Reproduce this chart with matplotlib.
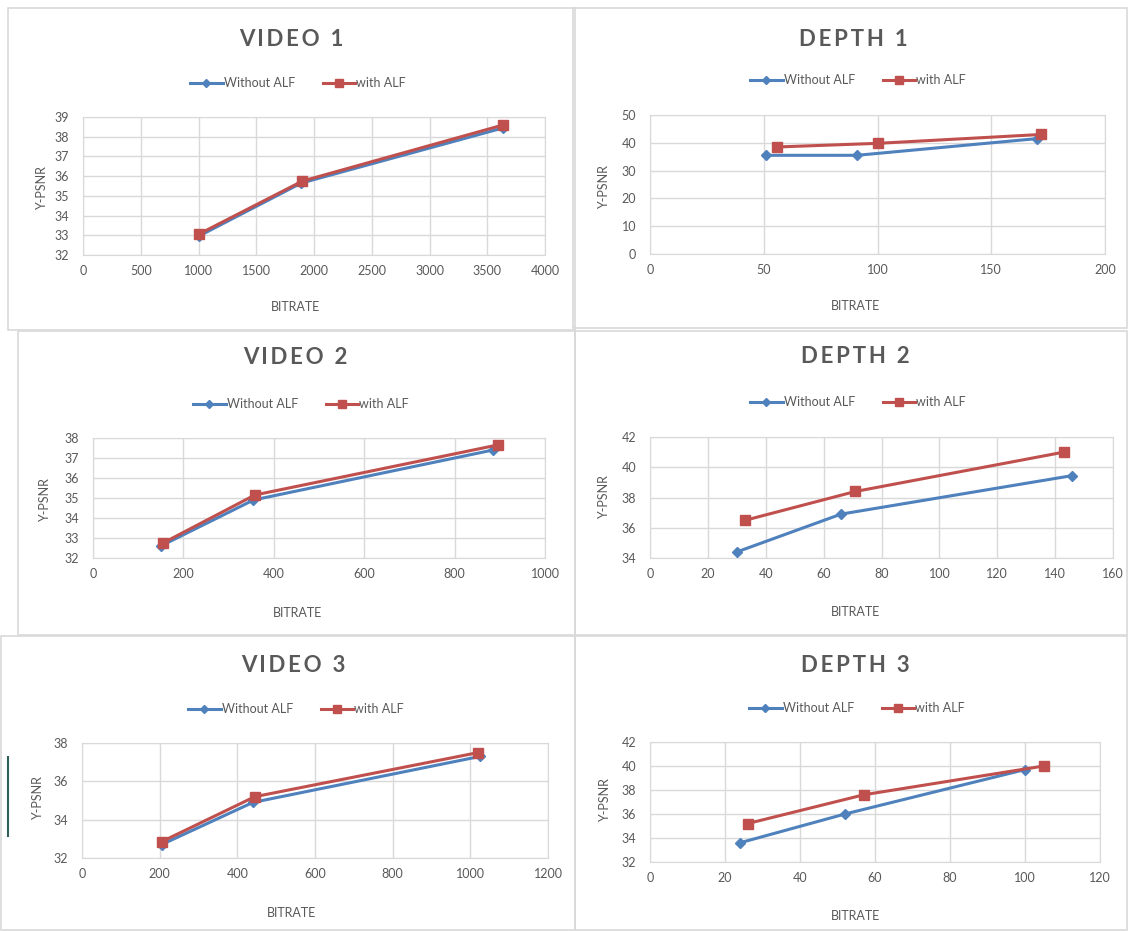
import matplotlib
matplotlib.use("Agg")
from matplotlib import pyplot as plt
from matplotlib.patches import Rectangle
from matplotlib.lines import Line2D

plt.rcParams["font.family"] = ["Lato", "DejaVu Sans"]

W, H = 1128, 931

# ---- data ----
titles = ["VIDEO 1", "DEPTH 1", "VIDEO 2", "DEPTH 2", "VIDEO 3", "DEPTH 3"]
series_names = ["Without ALF", "with ALF"]

v1_x_without = [1000, 1890, 3640]
v1_y_without = [32.95, 35.65, 38.45]
v1_x_with = [1000, 1900, 3640]
v1_y_with = [33.05, 35.75, 38.6]

d1_x_without = [51, 91, 170]
d1_y_without = [35.5, 35.5, 41.5]
d1_x_with = [56, 100, 172]
d1_y_with = [38.5, 39.8, 43.0]

v2_x_without = [150, 355, 885]
v2_y_without = [32.6, 34.9, 37.4]
v2_x_with = [155, 358, 895]
v2_y_with = [32.75, 35.15, 37.65]

d2_x_without = [30, 66, 146]
d2_y_without = [34.4, 36.9, 39.45]
d2_x_with = [33, 71, 143]
d2_y_with = [36.5, 38.4, 41.0]

v3_x_without = [205, 440, 1025]
v3_y_without = [32.7, 34.9, 37.3]
v3_x_with = [205, 445, 1020]
v3_y_with = [32.85, 35.2, 37.5]

d3_x_without = [24, 52, 100]
d3_y_without = [33.6, 36.0, 39.7]
d3_x_with = [26, 57, 105]
d3_y_with = [35.2, 37.6, 40.0]

x_ticks = [range(0, 4001, 500), range(0, 201, 50), range(0, 1001, 200),
           range(0, 161, 20), range(0, 1201, 200), range(0, 121, 20)]
y_ticks = [range(32, 40, 1), range(0, 51, 10), range(32, 39, 1),
           range(34, 43, 2), range(32, 39, 2), range(32, 43, 2)]

data = [
    (v1_x_without, v1_y_without, v1_x_with, v1_y_with),
    (d1_x_without, d1_y_without, d1_x_with, d1_y_with),
    (v2_x_without, v2_y_without, v2_x_with, v2_y_with),
    (d2_x_without, d2_y_without, d2_x_with, d2_y_with),
    (v3_x_without, v3_y_without, v3_x_with, v3_y_with),
    (d3_x_without, d3_y_without, d3_x_with, d3_y_with),
]

# ---- layout in reference pixels ----
# plot area: left, right, top, bottom
plot_boxes = [(83, 545, 117, 255), (650, 1105, 115, 254),
              (93, 545, 438, 558), (650, 1113, 437, 558),
              (82, 548, 743, 858), (650, 1100, 742, 862)]
panel_boxes = [(8, 575, 8, 330), (573, 1127, 8, 328),
               (18, 575, 331, 635), (575, 1127, 331, 635),
               (1, 575, 636, 930), (575, 1127, 636, 930)]
title_pos = [(291, 40), (853, 40), (295, 358), (855, 357), (293, 665), (855, 665)]
legend_pos = [(298, 83), (858, 80), (301, 404), (858, 402), (296, 709), (857, 708)]
ylabel_pos = [(42, 188), (604, 187), (45, 500), (604, 497), (38, 798), (605, 800)]
xlabel_pos = [(295, 307), (855, 306), (297, 613), (855, 612), (291, 913), (855, 916)]

BLUE = "#4F81BD"
RED = "#C0504D"
GRID = "#D9D9D9"
TXT = "#595959"


def fx(px):
    return px / W


def fy(py):
    return 1 - py / H


fig = plt.figure(figsize=(W / 100, H / 100), dpi=100)

for k in range(6):
    l, r, t, b = panel_boxes[k]
    fig.add_artist(Rectangle((fx(l), fy(b)), fx(r - l), (b - t) / H, transform=fig.transFigure,
                             fill=False, edgecolor=GRID, linewidth=1.2))

    l, r, t, b = plot_boxes[k]
    ax = fig.add_axes([fx(l), fy(b), fx(r - l), (b - t) / H])
    xw, yw, xa, ya = data[k]
    ax.plot(xw, yw, color=BLUE, lw=2.2, marker="D", ms=5.5, label=series_names[0], zorder=3)
    ax.plot(xa, ya, color=RED, lw=2.2, marker="s", ms=6.5, label=series_names[1], zorder=4)

    xt = list(x_ticks[k])
    yt = list(y_ticks[k])
    ax.set_xlim(xt[0], xt[-1])
    ax.set_ylim(yt[0], yt[-1])
    ax.set_xticks(xt)
    ax.set_yticks(yt)
    ax.grid(True, color=GRID, lw=1)
    ax.set_axisbelow(True)
    ax.tick_params(length=0, labelsize=9, colors=TXT, pad=7)
    ax.tick_params(axis="y", pad=10)
    for s in ax.spines.values():
        s.set_color(GRID)
    for lab in ax.get_xticklabels() + ax.get_yticklabels():
        lab.set_clip_on(False)

    tx, ty = title_pos[k]
    fig.text(fx(tx), fy(ty), "\u2009".join(titles[k]), ha="center", va="center",
             fontsize=16, fontweight="bold", color=TXT)
    lx, ly = legend_pos[k]
    ax.legend(loc="center", bbox_to_anchor=(fx(lx), fy(ly)), bbox_transform=fig.transFigure,
              ncol=2, frameon=False, fontsize=9, labelcolor=TXT, handlelength=2.6,
              handletextpad=0.1, columnspacing=2.2, markerscale=0.8)
    yx, yy = ylabel_pos[k]
    fig.text(fx(yx), fy(yy), "Y-PSNR", rotation=90, ha="center", va="center", fontsize=9, color=TXT)
    bx, by = xlabel_pos[k]
    fig.text(fx(bx), fy(by), "BITRATE", ha="center", va="center", fontsize=9, color=TXT)

# small spreadsheet selection mark at the left edge
fig.add_artist(Line2D([fx(8), fx(8)], [fy(757), fy(836)], transform=fig.transFigure,
                      color="#2F5F5A", lw=1.5))

fig.savefig("out.png", dpi=100)
